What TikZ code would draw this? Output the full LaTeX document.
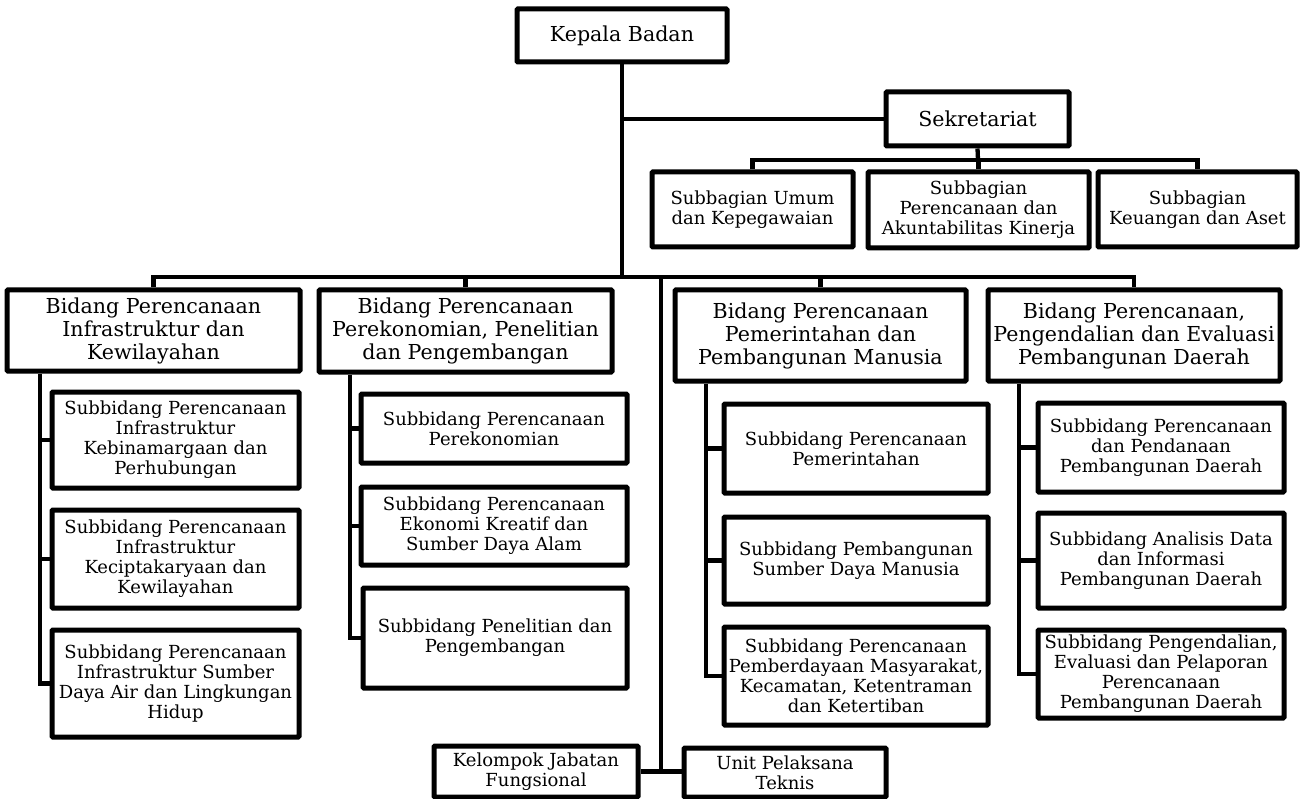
\documentclass[tikz,border=0pt]{standalone}
\usepackage{fontspec}
\setmainfont{DejaVu Serif}
\begin{document}
\begin{tikzpicture}[x=1pt,y=-1pt,
  box/.style={draw=black,line width=5pt,rounded corners=1pt,fill=white,align=center,inner sep=0pt,
    font=\fontsize{18}{20}\selectfont},
  bigbox/.style={box,font=\fontsize{20.6}{23}\selectfont},
  conn/.style={draw=black,line width=4.3pt}]
\useasboundingbox (0,0) rectangle (1300,799);
% top
\node[bigbox,minimum width=210,minimum height=53] (kb) at (622,35.5) {Kepala Badan};
\node[bigbox,minimum width=183,minimum height=54] (sek) at (977.5,119) {Sekretariat};
\node[box,minimum width=201,minimum height=75] (sa) at (752.5,209.5) {Subbagian Umum\\dan Kepegawaian};
\node[box,minimum width=221,minimum height=76] (sb) at (978.5,210) {Subbagian\\Perencanaan dan\\Akuntabilitas Kinerja};
\node[box,minimum width=199,minimum height=75] (sc) at (1197.5,209.5) {Subbagian\\Keuangan dan Aset};
% bidang
\node[bigbox,minimum width=293,minimum height=81] (b1) at (153.5,330.5) {Bidang Perencanaan\\Infrastruktur dan\\Kewilayahan};
\node[bigbox,minimum width=293,minimum height=82] (b2) at (465.5,331) {Bidang Perencanaan\\Perekonomian, Penelitian\\dan Pengembangan};
\node[bigbox,minimum width=291,minimum height=91] (b3) at (820.5,335.5) {Bidang Perencanaan\\Pemerintahan dan\\Pembangunan Manusia};
\node[bigbox,minimum width=292,minimum height=91] (b4) at (1134,335.5) {Bidang Perencanaan,\\Pengendalian dan Evaluasi\\Pembangunan Daerah};
% subbidang
\node[box,minimum width=247,minimum height=96] (s11) at (175.5,440) {Subbidang Perencanaan\\Infrastruktur\\Kebinamargaan dan\\Perhubungan};
\node[box,minimum width=247,minimum height=98] (s12) at (175.5,559) {Subbidang Perencanaan\\Infrastruktur\\Keciptakaryaan dan\\Kewilayahan};
\node[box,minimum width=247,minimum height=107] (s13) at (175.5,683.5) {Subbidang Perencanaan\\Infrastruktur Sumber\\Daya Air dan Lingkungan\\Hidup};
\node[box,minimum width=266,minimum height=69] (s21) at (494,428.5) {Subbidang Perencanaan\\Perekonomian};
\node[box,minimum width=266,minimum height=78] (s22) at (494,526) {Subbidang Perencanaan\\Ekonomi Kreatif dan\\Sumber Daya Alam};
\node[box,minimum width=264,minimum height=100] (s23) at (495,638) {Subbidang Penelitian dan\\Pengembangan};
\node[box,minimum width=264,minimum height=89] (s31) at (856,448.5) {Subbidang Perencanaan\\Pemerintahan};
\node[box,minimum width=264,minimum height=87] (s32) at (856,560.5) {Subbidang Pembangunan\\Sumber Daya Manusia};
\node[box,minimum width=264,minimum height=98] (s33) at (856,676) {Subbidang Perencanaan\\Pemberdayaan Masyarakat,\\Kecamatan, Ketentraman\\dan Ketertiban};
\node[box,minimum width=246,minimum height=89] (s41) at (1161,447.5) {Subbidang Perencanaan\\dan Pendanaan\\Pembangunan Daerah};
\node[box,minimum width=246,minimum height=95] (s42) at (1161,560.5) {Subbidang Analisis Data\\dan Informasi\\Pembangunan Daerah};
\node[box,minimum width=246,minimum height=88] (s43) at (1161,674) {Subbidang Pengendalian,\\Evaluasi dan Pelaporan\\Perencanaan\\Pembangunan Daerah};
% bottom
\node[box,minimum width=204,minimum height=51] (kel) at (536,771.5) {Kelompok Jabatan\\Fungsional};
\node[box,minimum width=202,minimum height=49] (upt) at (785,772.5) {Unit Pelaksana\\Teknis};
% connectors
\coordinate (bus) at (622,277);
\coordinate (sbus) at (978,160);
\coordinate (fj) at (661,772);
\draw[conn] (kb.south) -- (bus);
\draw[conn] (sek.west) -- (sek.west -| kb.south);
\draw[conn] (b1.north) |- (bus) -| (b4.north);
\draw[conn] (b2.north) -- (b2.north |- bus);
\draw[conn] (b3.north) -- (b3.north |- bus);
\draw[conn] (sek.south) -- (sbus);
\draw[conn] (sa.north) |- (sbus) -| (sc.north);
\draw[conn] (sb.north) -- (sb.north |- sbus);
\draw[conn] (bus -| fj) -- (fj);
\draw[conn] (kel.east) -- (kel.east -| upt.west);
% bidang trunks
\coordinate (t1) at (40,0);
\coordinate (t2) at (350,0);
\coordinate (t3) at (706,0);
\coordinate (t4) at (1019,0);
\draw[conn] (b1.south -| t1) |- (s13.west);
\draw[conn] (s11.west) -- (s11.west -| t1);
\draw[conn] (s12.west) -- (s12.west -| t1);
\draw[conn] (b2.south -| t2) |- (s23.west);
\draw[conn] (s21.west) -- (s21.west -| t2);
\draw[conn] (s22.west) -- (s22.west -| t2);
\draw[conn] (b3.south -| t3) |- (s33.west);
\draw[conn] (s31.west) -- (s31.west -| t3);
\draw[conn] (s32.west) -- (s32.west -| t3);
\draw[conn] (b4.south -| t4) |- (s43.west);
\draw[conn] (s41.west) -- (s41.west -| t4);
\draw[conn] (s42.west) -- (s42.west -| t4);
\end{tikzpicture}
\end{document}
